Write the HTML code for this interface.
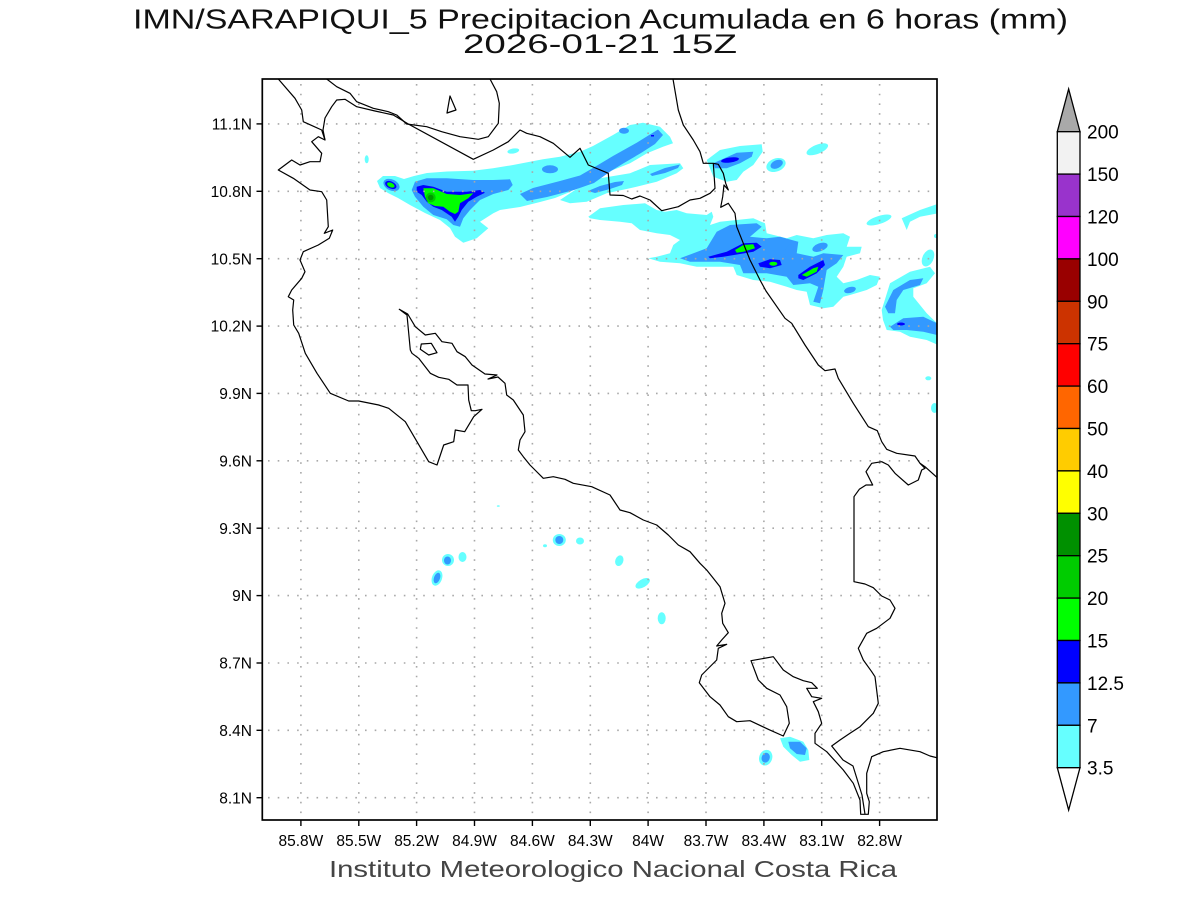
<!DOCTYPE html>
<html>
<head>
<meta charset="utf-8">
<style>
html,body{margin:0;padding:0;background:#fff;}
svg{display:block;}
text{font-family:"Liberation Sans",sans-serif;fill:#000;}
</style>
</head>
<body>
<svg width="1200" height="900" viewBox="0 0 1200 900" xmlns="http://www.w3.org/2000/svg">
<defs>
<clipPath id="plot"><rect x="262.3" y="79" width="674.7" height="741"/></clipPath>
</defs>
<rect x="0" y="0" width="1200" height="900" fill="#fff"/>

<!-- Titles -->
<text x="600.5" y="28.5" font-size="28" text-anchor="middle" textLength="935" lengthAdjust="spacingAndGlyphs" style="fill:#111">IMN/SARAPIQUI_5 Precipitacion Acumulada en 6 horas (mm)</text>
<text x="600" y="53" font-size="26.5" text-anchor="middle" textLength="274" lengthAdjust="spacingAndGlyphs" style="fill:#111">2026-01-21 15Z</text>

<g clip-path="url(#plot)" stroke-linejoin="round">
<!-- ===== Band 1 (NW) ===== -->
<polygon fill="#66ffff" points="377,181 383,176 395,176 404,179 414,176 427,173 447,171.5 473,170.7 493,168.3 513,165 543,159.3 560,156.7 580,151.7 593,146 613,135 630,125 643,122.7 660,126.7 670,136.7 673,143.3 663,146.7 647,153.3 630,163.3 613,170 600,175 590,180 580,186 570,192 555,198 540,202 520,207 500,210 493.3,213.3 480,221.7 488.3,228.3 476.7,238.3 463.3,242.7 455,236.7 450,228 440,220 425,213 410,205 398,198 388,193 380,188"/>
<polygon fill="#66ffff" points="575,190 600,178.3 630,173.3 650,165 680,163.3 683.3,168.3 676.7,173.3 656.7,181.7 630,188.3 606.7,193.3 586.7,201.7 570,203.3 560,200"/>
<ellipse cx="366.7" cy="159.3" rx="2" ry="4" fill="#66ffff"/>
<ellipse cx="513.3" cy="151" rx="6" ry="2.5" transform="rotate(-10 513.3 151)" fill="#66ffff"/>

<polygon fill="#3399ff" points="411.7,190 415,181.7 426.7,178.3 446.7,178.3 473.3,180 493.3,180 510,179.3 512.7,185 508.3,190 493.3,194 480,200 470,210 463.3,218.3 460,226.7 453.3,225 446.7,219.3 433.3,215 423.3,206.7 415,196.7"/>
<polygon fill="#3399ff" points="520,194 533,188 560,181 580,175.5 593,168 613,156 636.7,142.7 658,129.5 663,135 655,144 641,153 624,163 611,171 594,183 574,190 547,197 527,201"/>
<polygon fill="#3399ff" points="588,191 600,186 615,182 624,181 622,185 610,189 595,193"/>
<polygon fill="#3399ff" points="650,174 665,168 680,164.5 678,168 665,173 652,176"/>
<ellipse cx="550" cy="169.3" rx="8" ry="4" fill="#3399ff"/>
<ellipse cx="624" cy="130.7" rx="5" ry="3" fill="#3399ff"/>
<rect x="651" y="135" width="3" height="1.5" fill="#0000ff"/>

<ellipse cx="391.5" cy="185" rx="8.5" ry="5.5" transform="rotate(25 391.5 185)" fill="#3399ff"/>
<ellipse cx="390.8" cy="185" rx="6" ry="3.5" transform="rotate(25 390.8 185)" fill="#0000ff"/>
<ellipse cx="390.8" cy="185" rx="4" ry="2.2" transform="rotate(25 390.8 185)" fill="#00ff00"/>

<polygon fill="#0000ff" points="416.7,186.7 423.3,185 433.3,186.7 446.7,191.7 466.7,191.7 480,190 485,192.7 476.7,196.7 468.3,201.7 461.7,210 458.3,216.7 455,221.7 451.7,216.7 441.7,210 433.3,206.7 426.7,201.7 421.7,195 416.7,191.7"/>
<polygon fill="#00ff00" points="423.3,188.3 433.3,188.3 446.7,194 460,195 473.3,193.3 468.3,198.3 460,203.3 458.3,211.7 455,214 450,211.7 443.3,206.7 435,206 428.3,203.3 425,196.7"/>
<circle cx="430.7" cy="197.5" r="5" fill="#00cc00"/>
<circle cx="430.7" cy="197.5" r="2.8" fill="#009900"/>

<!-- Top-right cluster near coast -->
<polygon fill="#66ffff" points="706.7,160 720,150 740,146 761.7,144.3 762.7,151.7 753.3,165 743.3,171.7 736.7,180 726.7,181.7 713.3,176.7"/>
<polygon fill="#3399ff" points="713.3,163.3 736.7,152.7 753.3,151.7 751.7,156.7 740,163.3 726.7,168.3 715,168.3"/>
<ellipse cx="730" cy="160" rx="9" ry="2.5" transform="rotate(-8 730 160)" fill="#0000ff"/>
<ellipse cx="776" cy="165" rx="10" ry="6.5" transform="rotate(-20 776 165)" fill="#66ffff"/>
<ellipse cx="776.7" cy="164.3" rx="6.5" ry="4" transform="rotate(-25 776.7 164.3)" fill="#3399ff"/>
<ellipse cx="817.3" cy="149.3" rx="11.5" ry="4.5" transform="rotate(-22 817.3 149.3)" fill="#66ffff"/>

<!-- ===== Band 2 (E) ===== -->
<polygon fill="#66ffff" points="588.3,216.7 600,208.3 623.3,205 645,203.3 656.7,210 665,211.7 676.7,210 686.7,213.3 706.7,215 711.7,211.7 713.3,216.7 710,225 720,221.7 753.3,218.3 765,223.3 766.7,233.3 786.7,238.3 796.7,235 813.3,238.3 826.7,235 843.3,233.3 850,236.7 846.7,246.7 861.7,246.7 860,253.3 846.7,256.7 843.3,266.7 836.7,276.7 843.3,283.3 856.7,280 870,275 880,276.7 876.7,285 866.7,290 850,295 843.3,296.7 833.3,306.7 823.3,308.3 810,305 806.7,291.7 796.7,290 786.7,286.7 770,281.7 753.3,280 736.7,275 733.3,266.7 720,266.7 696.7,266.7 680,263.3 660,261.7 648.3,258.3 656.7,256.7 670,253.3 673.3,245 680,240 670,235 656.7,233.3 640,230 631.7,223.3 620,221.7 600,220 590,218.3"/>
<polygon fill="#3399ff" points="680,258.3 706.7,248.3 716.7,231.7 730,225 756.7,223.3 761.7,226.7 750,236.7 766.7,238.3 780,236.7 798.3,241.7 796.7,253.3 813.3,256.7 823.3,253.3 843.3,255 836.7,263.3 826.7,270 823.3,290 820,303.3 813.3,301.7 818.3,286.7 810,283.3 793.3,285 786.7,276.7 766.7,273.3 753.3,273.3 743.3,273.3 740,265 720,261.7 690,261.7"/>
<ellipse cx="789.3" cy="251" rx="4" ry="7" transform="rotate(20 789.3 251)" fill="#3399ff"/>
<ellipse cx="820" cy="247.3" rx="8" ry="4" transform="rotate(-20 820 247.3)" fill="#3399ff"/>
<ellipse cx="850" cy="290" rx="6" ry="3" transform="rotate(-15 850 290)" fill="#3399ff"/>

<polygon fill="#0000ff" points="708.3,256.7 726.7,251.7 743.3,243.3 756.7,242.7 761.7,246.7 753.3,251.7 740,254 723.3,256.7 710,258.3"/>
<polygon fill="#00ff00" points="735,250 743.3,245 753.3,244.3 755,248.3 743.3,251.7 736.7,252.7"/>
<polygon fill="#0000ff" points="758.3,263.3 770,259.3 780,260 781.7,265 770,268.3 760,266.7"/>
<ellipse cx="773.3" cy="263.7" rx="4" ry="2" fill="#00ff00"/>
<polygon fill="#0000ff" points="798.3,275 810,266.7 823.3,260 825,265 816.7,273.3 803.3,280 798.3,278.3"/>
<polygon fill="#00ff00" points="801.7,275 813.3,268.3 818.3,266.7 816.7,271.7 806.7,276.7"/>

<!-- right edge features -->
<ellipse cx="879" cy="220" rx="13" ry="4" transform="rotate(-18 879 220)" fill="#66ffff"/>
<polygon fill="#66ffff" points="901.7,218.3 920,210 936.7,204.3 938,213.3 920,216.7 910,221.7 906.7,230 903.3,222"/>
<ellipse cx="928" cy="258" rx="5.5" ry="9" transform="rotate(25 928 258)" fill="#66ffff"/>
<polygon fill="#66ffff" points="881.7,310 890,283.3 910,271.7 930,266.7 935,273.3 926.7,283.3 913.3,288.3 913.3,296.7 926.7,313.3 937,323.3 938,345 926.7,340 910,336.7 900,331.7 886.7,330 883,320"/>
<polygon fill="#3399ff" points="885,306.7 893.3,290 910,280 923.3,278.3 920,285 903.3,290 896.7,300 895,313.3 888.3,313.3"/>
<polygon fill="#3399ff" points="890,326.7 903.3,318.3 923.3,316.7 937,323.3 937,335 923.3,331.7 906.7,330 893.3,330"/>
<ellipse cx="901" cy="324" rx="4" ry="1.5" fill="#0000ff"/>
<ellipse cx="928.3" cy="378.3" rx="3" ry="2" fill="#66ffff"/>
<ellipse cx="934.5" cy="408" rx="3.5" ry="5" fill="#66ffff"/>
<ellipse cx="936" cy="236" rx="2" ry="2" fill="#66ffff"/>

<!-- ===== Southern small cells ===== -->
<ellipse cx="498.3" cy="506" rx="1.5" ry="0.8" fill="#66ffff"/>
<ellipse cx="448" cy="560" rx="6" ry="6" fill="#66ffff"/>
<ellipse cx="447.5" cy="560.5" rx="3.5" ry="4" fill="#3399ff"/>
<ellipse cx="462.5" cy="557" rx="4" ry="5" fill="#66ffff"/>
<ellipse cx="437" cy="578" rx="5" ry="8" transform="rotate(20 437 578)" fill="#66ffff"/>
<ellipse cx="437" cy="578" rx="3" ry="5.5" transform="rotate(20 437 578)" fill="#3399ff"/>
<ellipse cx="559.3" cy="540" rx="6.5" ry="6" fill="#66ffff"/>
<ellipse cx="559.3" cy="540" rx="4" ry="4" fill="#3399ff"/>
<ellipse cx="580" cy="541" rx="4" ry="3.5" fill="#66ffff"/>
<ellipse cx="545" cy="545.7" rx="2" ry="1.5" fill="#66ffff"/>
<ellipse cx="619.3" cy="560.7" rx="4" ry="5.5" transform="rotate(20 619.3 560.7)" fill="#66ffff"/>
<ellipse cx="642.7" cy="583.3" rx="8" ry="4" transform="rotate(-30 642.7 583.3)" fill="#66ffff"/>
<ellipse cx="661.7" cy="618.3" rx="4" ry="6" fill="#66ffff"/>
<polygon fill="#66ffff" points="780,738.3 790,736.7 803.3,741.7 808.3,750 809.3,760 800,761.7 791.7,755 783.3,746.7"/>
<polygon fill="#3399ff" points="788.3,741.7 800,741.7 806.7,748.3 805,755 796.7,754 790,748.3"/>
<ellipse cx="765.7" cy="757.7" rx="6.5" ry="8" transform="rotate(20 765.7 757.7)" fill="#66ffff"/>
<ellipse cx="765.7" cy="757.7" rx="4" ry="5" transform="rotate(20 765.7 757.7)" fill="#3399ff"/>
</g>

<!-- Grid -->
<g stroke="#a8a8a8" stroke-width="1.6" stroke-dasharray="1.6 8.1" fill="none">
<line x1="300.9" y1="84" x2="300.9" y2="820"/>
<line x1="358.8" y1="84" x2="358.8" y2="820"/>
<line x1="416.6" y1="84" x2="416.6" y2="820"/>
<line x1="474.5" y1="84" x2="474.5" y2="820"/>
<line x1="532.4" y1="84" x2="532.4" y2="820"/>
<line x1="590.3" y1="84" x2="590.3" y2="820"/>
<line x1="648.1" y1="84" x2="648.1" y2="820"/>
<line x1="706" y1="84" x2="706" y2="820"/>
<line x1="763.9" y1="84" x2="763.9" y2="820"/>
<line x1="821.7" y1="84" x2="821.7" y2="820"/>
<line x1="879.6" y1="84" x2="879.6" y2="820"/>
<line x1="268" y1="123.9" x2="937" y2="123.9"/>
<line x1="268" y1="191.3" x2="937" y2="191.3"/>
<line x1="268" y1="258.7" x2="937" y2="258.7"/>
<line x1="268" y1="326.1" x2="937" y2="326.1"/>
<line x1="268" y1="393.4" x2="937" y2="393.4"/>
<line x1="268" y1="460.8" x2="937" y2="460.8"/>
<line x1="268" y1="528.2" x2="937" y2="528.2"/>
<line x1="268" y1="595.6" x2="937" y2="595.6"/>
<line x1="268" y1="663" x2="937" y2="663"/>
<line x1="268" y1="730.3" x2="937" y2="730.3"/>
<line x1="268" y1="797.7" x2="937" y2="797.7"/>
</g>

<!-- Coastlines / borders -->
<g clip-path="url(#plot)" fill="none" stroke="#000" stroke-width="1.2" stroke-linejoin="round">
<polyline points="278.3,79 295,98.3 301.7,110 303.3,121.7 321.7,130 325,140 318.3,136.7 311.7,141.7 321.7,153.3 320,161.7 310,161.7 300,165 291.7,160 278.3,170 293.3,178.3 310,190 321.7,191.7 326.7,200 328.3,226.7 324.3,233.3 332.7,230 329.3,238.3 318.3,245 303.3,251.7 300,260 305,271.7 301.7,278.3 291.7,290 288.3,296.7 293.7,300 292.7,310 293.7,325 298.7,333.3 305.3,353.3 317,373.3 330.3,393.3 348.7,401 358.7,401 378.7,405 388.7,408.3 405.3,421.7 417,441.7 428.7,461.7 437,465 443.7,445 453.7,441.7 455.3,430 464.7,431.7 473.7,416.7 482,409.3 475.3,410.7 471.3,410.7 468.7,400 468,385 457,385 448.7,379.3 438.7,377.3 430.3,373.3 418.7,358.3 412,353.3 410.3,350 407,315 399.3,309.3 407.7,314 415.3,326.7 425.3,335 435.3,333.3 442,341.7 452,343.3 457,351.7 465.3,356.7 472,365 485,374 497,375 488,379 498,377 505,383.3 506.7,395 513.3,400 523.3,415 525,431.7 520,440 518.3,450 523.3,456.7 530,465 535,470 543.3,478.3 553.3,476.7 565,479.3 573.3,483.3 591.7,486.7 610,495 620,510 630,512.7 643.3,520 656.7,525 668.3,535 678.3,545 690,551.7 700,563.3 706.7,570 713.3,578.3 720,586.7 725,603.3 721.7,613.3 722.7,623.3 728.3,632.7 721.7,640 716.7,646 726.7,644.3 718.3,648.3 716.7,660 701.7,675 699.3,682.7 710,696.7 720,705 728.3,716.7 736.7,721.7 750,720.7 768.3,729.3 783.3,736 789.3,723.3 786.7,706.7 780,695 766.7,688.3 758.3,680 751,660.7 773.3,656.7 783.3,670 793.3,676.7 803.3,680.7 811.7,682.7 817.3,688.3 806.7,688.3 811.7,696.7 821.7,698.3 813.3,701.7 818.3,711.7 821.7,723.3 815,733.3 815,743.3 826.7,751.7 843.3,770 853.3,783.3 860,800 860.7,814.3 868.3,814.3 869.3,801.7 866.7,793.3 866.7,773.3 871.7,756.7 883.3,751.7 900,748.3 920,751.7 930,756 938,758"/>
<polyline points="326.7,79 336.7,86.7 350,93.3 356.7,101.7 373.3,108.3 388.3,111.7 396.7,115 406.7,124 426.7,126.7 441.7,131.7 460,136.7 478.3,139.3 488.3,136.7 498.3,123.3 499.3,103.3 496.7,91.7 490,79"/>
<polyline points="325,140 323,130 325,118 331.7,106.7 336.7,100 345,99.3 356.7,106.7 375,111 393.3,115 408.3,124 473.3,159.3 493.3,150 508.3,141.7 520,130 526.7,133.3 540,136.7 553.3,143.3 570,157.3 580,148.3 588.3,165 608.3,173.3 610,195 623.3,195.5 631.7,199 640,196 650,200 661.7,210.7 678.3,206.7 690,200 700,198.3 710,193.3 715,188.3 713.3,163.3"/>
<polyline points="673,79 678.3,110 683.3,125 693.3,140 700,151.7 703.3,163.3 713.3,163.3 718.3,164.3 723.3,173.3 725.7,183.3 728.3,190 724,185 722.7,196.7 720.7,207.3 728.3,203.3 735,213.3 736.7,226.7 743.3,243.3 750,260 760,280 766,291 785,318.3 791.7,323.3 805,345 818.3,365 825,370.7 835,369 838.3,378.3 853.3,403.3 868.3,426.7 877.3,430.7 881.7,441.7 886.7,449.3 896.7,453.3 915,456 920,463.3 925,466.7 938,478.3"/>
<polyline points="920,463.3 925,468.3 921.7,470 918.3,480 908.3,485 895,473.3 888.3,465 881.7,461.7 871.7,463.3 866,471.7 872.7,485 866,485 859.3,489.3 854,496.7 854,581.7 865,584 873.3,587.7 881.7,596 890,600 895,608.3 890,618.3 876.7,628.3 866.7,633.3 858.3,648.3 863.3,660 871.7,671.7 875,676.7 878.3,703.3 873.3,713.3 860,726.7 850,733.3 840,740 831.7,746 843,760 853,766 862,795 865,814.3"/>
<polygon points="421.3,344 431.3,343.3 437,352.7 428.7,355 420.3,349.3"/>
<polygon points="450,96 456,110 447,113"/>
</g>

<!-- Frame -->
<rect x="262.3" y="79" width="674.7" height="741" fill="none" stroke="#000" stroke-width="1.7"/>

<!-- Ticks -->
<g stroke="#000" stroke-width="1.4">
<line x1="256.5" y1="123.9" x2="262.3" y2="123.9"/>
<line x1="256.5" y1="191.3" x2="262.3" y2="191.3"/>
<line x1="256.5" y1="258.7" x2="262.3" y2="258.7"/>
<line x1="256.5" y1="326.1" x2="262.3" y2="326.1"/>
<line x1="256.5" y1="393.4" x2="262.3" y2="393.4"/>
<line x1="256.5" y1="460.8" x2="262.3" y2="460.8"/>
<line x1="256.5" y1="528.2" x2="262.3" y2="528.2"/>
<line x1="256.5" y1="595.6" x2="262.3" y2="595.6"/>
<line x1="256.5" y1="663" x2="262.3" y2="663"/>
<line x1="256.5" y1="730.3" x2="262.3" y2="730.3"/>
<line x1="256.5" y1="797.7" x2="262.3" y2="797.7"/>
<line x1="300.9" y1="820" x2="300.9" y2="826"/>
<line x1="358.8" y1="820" x2="358.8" y2="826"/>
<line x1="416.6" y1="820" x2="416.6" y2="826"/>
<line x1="474.5" y1="820" x2="474.5" y2="826"/>
<line x1="532.4" y1="820" x2="532.4" y2="826"/>
<line x1="590.3" y1="820" x2="590.3" y2="826"/>
<line x1="648.1" y1="820" x2="648.1" y2="826"/>
<line x1="706" y1="820" x2="706" y2="826"/>
<line x1="763.9" y1="820" x2="763.9" y2="826"/>
<line x1="821.7" y1="820" x2="821.7" y2="826"/>
<line x1="879.6" y1="820" x2="879.6" y2="826"/>
</g>

<!-- Lat labels -->
<g font-size="15.5" text-anchor="end">
<text x="252" y="129.5">11.1N</text>
<text x="252" y="196.9">10.8N</text>
<text x="252" y="264.3">10.5N</text>
<text x="252" y="331.7">10.2N</text>
<text x="252" y="399">9.9N</text>
<text x="252" y="466.4">9.6N</text>
<text x="252" y="533.8">9.3N</text>
<text x="252" y="601.2">9N</text>
<text x="252" y="668.6">8.7N</text>
<text x="252" y="735.9">8.4N</text>
<text x="252" y="803.3">8.1N</text>
</g>
<!-- Lon labels -->
<g font-size="15.5" text-anchor="middle">
<text x="300.9" y="846">85.8W</text>
<text x="358.8" y="846">85.5W</text>
<text x="416.6" y="846">85.2W</text>
<text x="474.5" y="846">84.9W</text>
<text x="532.4" y="846">84.6W</text>
<text x="590.3" y="846">84.3W</text>
<text x="648.1" y="846">84W</text>
<text x="706" y="846">83.7W</text>
<text x="763.9" y="846">83.4W</text>
<text x="821.7" y="846">83.1W</text>
<text x="879.6" y="846">82.8W</text>
</g>

<text x="613" y="877" font-size="23" text-anchor="middle" textLength="568" lengthAdjust="spacingAndGlyphs" style="fill:#444">Instituto Meteorologico Nacional Costa Rica</text>

<!-- Colorbar -->
<g stroke="#000" stroke-width="1.3" stroke-linejoin="miter">
<polygon points="1057.3,131.7 1080,131.7 1068.65,89" fill="#a9a9a9"/>
<rect x="1057.3" y="131.7" width="22.7" height="42.4" fill="#f2f2f2"/>
<rect x="1057.3" y="174.1" width="22.7" height="42.4" fill="#9933cc"/>
<rect x="1057.3" y="216.5" width="22.7" height="42.4" fill="#ff00ff"/>
<rect x="1057.3" y="258.9" width="22.7" height="42.4" fill="#990000"/>
<rect x="1057.3" y="301.3" width="22.7" height="42.4" fill="#cc3300"/>
<rect x="1057.3" y="343.7" width="22.7" height="42.4" fill="#ff0000"/>
<rect x="1057.3" y="386.1" width="22.7" height="42.4" fill="#ff6600"/>
<rect x="1057.3" y="428.5" width="22.7" height="42.4" fill="#ffcc00"/>
<rect x="1057.3" y="470.9" width="22.7" height="42.4" fill="#ffff00"/>
<rect x="1057.3" y="513.3" width="22.7" height="42.4" fill="#009000"/>
<rect x="1057.3" y="555.7" width="22.7" height="42.4" fill="#00cc00"/>
<rect x="1057.3" y="598.1" width="22.7" height="42.4" fill="#00ff00"/>
<rect x="1057.3" y="640.5" width="22.7" height="42.4" fill="#0000ff"/>
<rect x="1057.3" y="682.9" width="22.7" height="42.4" fill="#3399ff"/>
<rect x="1057.3" y="725.3" width="22.7" height="42.4" fill="#66ffff"/>
<polygon points="1057.3,767.7 1080,767.7 1068.65,810" fill="#fff"/>
</g>
<g font-size="19">
<text x="1087" y="138.7">200</text>
<text x="1087" y="181.1">150</text>
<text x="1087" y="223.5">120</text>
<text x="1087" y="265.9">100</text>
<text x="1087" y="308.3">90</text>
<text x="1087" y="350.7">75</text>
<text x="1087" y="393.1">60</text>
<text x="1087" y="435.5">50</text>
<text x="1087" y="477.9">40</text>
<text x="1087" y="520.3">30</text>
<text x="1087" y="562.7">25</text>
<text x="1087" y="605.1">20</text>
<text x="1087" y="647.5">15</text>
<text x="1087" y="689.9">12.5</text>
<text x="1087" y="732.3">7</text>
<text x="1087" y="774.7">3.5</text>
</g>
</svg>
</body>
</html>
